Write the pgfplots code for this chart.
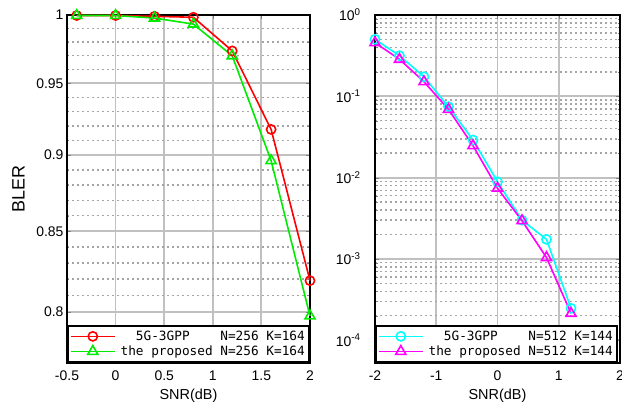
\documentclass[border=0pt]{standalone}
\usepackage{fontspec}
\setmainfont{Liberation Sans}
\setmonofont{DejaVu Sans Mono}
\usepackage{pgfplots}
\pgfplotsset{compat=1.18}
\definecolor{mred}{RGB}{255,0,0}
\definecolor{mgreen}{RGB}{0,235,0}
\definecolor{mcyan}{RGB}{0,255,255}
\definecolor{mmag}{RGB}{255,0,255}
\definecolor{mgrid}{RGB}{192,192,192}
\definecolor{mdots}{RGB}{165,165,165}

\pgfplotsset{
  matfig/.style={
    scale only axis,height=348bp,
    axis line style={line width=2bp},
    tick align=inside,xtick pos=both,ytick pos=both,
    major tick length=4bp,minor tick length=2.5bp,
    xmajorgrids=true,ymajorgrids=true,yminorgrids=true,
    major grid style={draw=mgrid,line width=1.8bp,solid},
    minor grid style={draw=mdots,line width=1.4bp,dash pattern=on 1.6bp off 3.4bp},
    tick label style={font=\fontsize{14}{16}\selectfont},
    xticklabel style={yshift=-4bp},
    label style={font=\fontsize{14.5}{17}\selectfont},
    xlabel style={yshift=-2bp},
    /pgf/number format/assume math mode=true,
    legend cell align=left,
    legend style={at={(rel axis cs:0,0)},anchor=south west,draw=black,line width=2bp,
      fill=white,font=\ttfamily\fontsize{12.8}{19}\selectfont,inner xsep=2bp,inner ysep=3bp,
      /tikz/every odd column/.append style={column sep=3bp}},
    legend image code/.code={\draw[mark repeat=2,mark phase=2,##1] plot coordinates {(0bp,0bp)(22bp,0bp)(44bp,0bp)};},
  },
  ser/.style={line width=1.6bp,#1,mark options={solid,fill=none}},
}

\begin{document}
\begin{tikzpicture}
\begin{axis}[matfig,width=243bp,
  xmin=-0.5,xmax=2,ymode=log,ymin=0.77,ymax=1,
  xtick={-0.5,0,0.5,1,1.5,2},xticklabels={-0.5,0,0.5,1,1.5,2},
  ytick={0.8,0.85,0.9,0.95,1},yticklabels={0.8,0.85,0.9,0.95,1},
  minor ytick={0.77,0.78,0.79,0.81,0.82,0.83,0.84,0.86,0.87,0.88,0.89,0.91,0.92,0.93,0.94,0.96,0.97,0.98,0.99},
  xlabel={SNR(dB)},ylabel={BLER},
  every axis y label/.style={at={(rel axis cs:0,0.5)},anchor=center,rotate=90,yshift=48.6bp,font=\fontsize{18}{20}\selectfont},
  clip=false]
\addplot[ser={mred},mark=o,mark size=4.6bp] coordinates {
(-0.4,0.9996) (0,0.9996) (0.4,0.9990) (0.8,0.9983) (1.2,0.9734) (1.6,0.9176) (2.0,0.8190)};
\addlegendentry{\hphantom{xx}5G-3GPP\hphantom{xxx} N=256 K=164}
\addplot[ser={mgreen},mark=triangle,mark size=5.8bp] coordinates {
(-0.4,0.9996) (0,0.9996) (0.4,0.9977) (0.8,0.9932) (1.2,0.9698) (1.6,0.8963) (2.0,0.7976)};
\addlegendentry{the proposed N=256 K=164}
\end{axis}

\begin{axis}[matfig,width=245bp,at={(308bp,0bp)},
  xmin=-2,xmax=2,ymode=log,ymin=5.25e-5,ymax=1,
  xtick={-2,-1,0,1,2},xticklabels={-2,-1,0,1,2},
  ytick={1e-4,1e-3,1e-2,1e-1,1},
  yticklabels={10\textsuperscript{-4},10\textsuperscript{-3},10\textsuperscript{-2},10\textsuperscript{-1},10\textsuperscript{0}},
  yticklabel style={xshift=-11bp},
  xlabel={SNR(dB)},clip=false]
\addplot[ser={mcyan},mark=o,mark size=4.6bp] coordinates {
(-2,0.502) (-1.6,0.316) (-1.2,0.174) (-0.8,0.0745) (-0.4,0.029) (0,0.0089) (0.4,0.0030) (0.8,0.00174) (1.2,0.000247)};
\addlegendentry{\hphantom{xx}5G-3GPP\hphantom{xxx} N=512 K=144}
\addplot[ser={mmag},mark=triangle,mark size=5.8bp] coordinates {
(-2,0.456) (-1.6,0.285) (-1.2,0.151) (-0.8,0.069) (-0.4,0.0247) (0,0.0074) (0.4,0.00295) (0.8,0.00104) (1.2,0.000214)};
\addlegendentry{the proposed N=512 K=144}
\end{axis}
\pgfresetboundingbox
\path[use as bounding box] (-67bp,-40bp) rectangle (555bp,363bp);
\end{tikzpicture}
\end{document}
